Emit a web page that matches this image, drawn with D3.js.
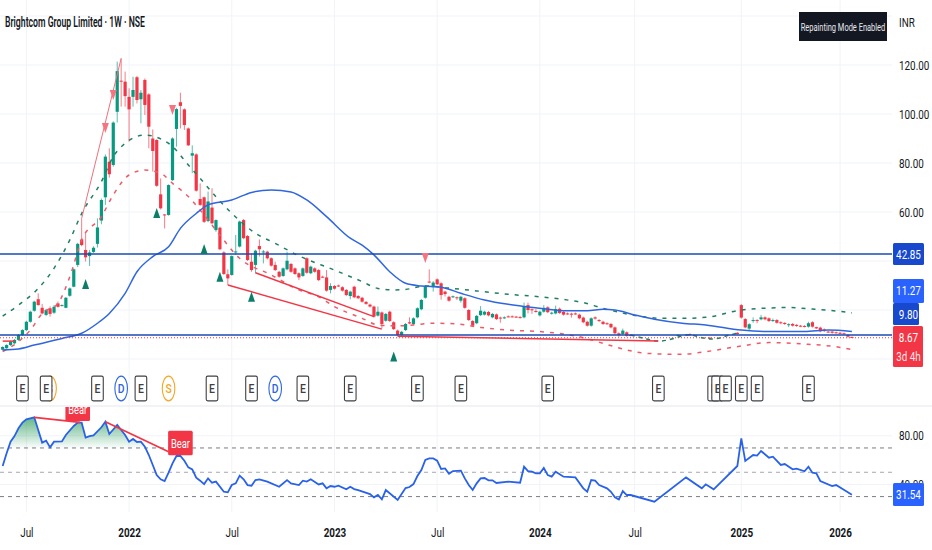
<!DOCTYPE html>
<html>
<head>
<meta charset="utf-8">
<script src="https://d3js.org/d3.v7.min.js"></script>
<style>
  html, body { margin: 0; padding: 0; background: #fff; }
  svg { display: block; font-family: Roboto, sans-serif; }
</style>
</head>
<body>
<div id="mydiv"></div>
<script>
// bars are placed by week number, week 0 is the first bar on the left
var tickWeeks = [6, 32, 58, 84, 110, 136, 160, 187, 212];
var tickLabels = ["Jul", "2022", "Jul", "2023", "Jul", "2024", "Jul", "2025", "2026"];
var priceTicks = [120, 100, 80, 60];
var priceGrid = [140, 120, 100, 80, 60, 40, 20, 0];
var rsiTicks = [80, 40];
var rsiLevels = [70, 50, 30];

var candleWeeks = d3.range(0, 160).concat([171, 174, 179, 186]).concat(d3.range(187, 216));
var opens = [3.8,4.4,5.7,6.4,7.8,9.8,11.8,15.2,19.7,24.4,
  20.9,18.0,20.7,18.9,22.7,21.8,20.9,25.8,29.5,38.4,
  48.8,44.5,42,43.7,47,56.5,66,80.5,79.2,100.9,
  113.6,113.2,107,107,115,106,113.9,108,90,89.4,
  67.2,59,58.8,73,93.9,104.8,101.9,94.1,83,83.5,
  65.3,66,56.3,61.8,52.6,53.6,43.5,34.6,34.3,43.6,
  45.9,56.7,50.2,39.7,38.4,46.1,43.6,43.8,41.1,38.4,
  35.6,33.9,36.6,38.8,37,35,33.9,41.1,35,37,
  36.3,33.6,33.3,28.2,29.8,30,29.3,28.2,25.7,29.5,
  25.7,25,23.3,22.2,21.4,17.7,19,15.6,19.3,15,
  11.6,9.8,11.8,15,14.3,17,20.3,25,31.6,29.3,
  32.5,30.9,27.5,25.4,25.4,25.2,23.8,24.8,20,15.5,
  14.6,17.9,18.1,19.2,17,18.2,16.9,16.9,17.4,17.4,
  17.3,17.1,17,22,20.3,19.6,17.8,19.3,21.1,18.5,
  18.6,20.5,19.2,18.6,18.5,18.6,18.1,16.9,15.2,13.6,
  17,15.9,15.2,14.6,14.3,12.9,10.5,10.2,10.9,9.8,
  9.6,10.2,8.7,10.7,
  22,16.3,12.4,15.8,15.9,16.2,17,16.6,15.8,15.9,
  15,14.7,14,14.3,13.9,13.6,13.5,13.2,15,13,
  12.8,12.1,11.2,11.2,10.9,10.7,10.5,9.8,9];
var closes = [4.9,5.7,7.1,7.8,9.8,11.8,15.2,19.3,23.4,22,
  18.6,20,18.4,21.3,21.3,22,25,28.8,36.6,47,
  46.5,41.5,43.5,45.4,53.7,64.9,82.6,75.4,96.5,117.5,
  113.2,107.3,101.9,109.8,105.7,108.7,103.7,94.8,84.9,70.7,
  61.5,58.7,71,90,102,103.3,95.5,87.2,84,68.7,
  62.9,56,64.3,55.4,56.7,44.8,34.7,32.9,42,43.9,
  56.1,49.3,40.4,36.3,44.2,44.8,43.9,41.1,38.1,36.3,
  33.6,37,40.1,35.6,34.7,33.3,37,35.2,37.7,35.6,
  32.2,33.3,27.9,29.8,28.7,29.8,27.9,26.1,27.5,25.2,
  24.8,23.4,22.5,21.4,17.3,19.3,14.3,18.4,15.5,12.2,
  9.7,11.1,14.3,14.5,16.6,20.7,24.1,29.8,31.2,31.2,
  30.5,26.1,26.5,23.8,25.6,25,25.4,20.9,15.9,13.6,
  17.6,19.7,19.3,17.8,18.4,16.3,16.6,17,17.3,17.3,
  17.1,17,21.6,20,20,19.4,19.3,20.9,19.1,18.9,
  20.4,18.8,18.1,18.3,18.3,18.3,16.6,15,13.6,16.6,
  16.5,15.5,14.3,14.3,12.9,10.5,9.8,11.6,9.5,9.4,
  9.8,9.8,8.3,10.2,
  16.9,12.9,14.2,15.9,15.5,17,16.2,15.5,15.9,14.8,
  14.6,14.3,14.2,13.6,13.5,13.4,13.3,14.6,13.2,12.5,
  11.3,11.4,11,10.7,10.7,10.5,10.3,9.1,8.67];
var highs = [5.2,6,7.5,8.2,10.2,12.2,15.6,19.7,23.8,26.8,
  22.5,20.5,21.5,22,23.5,22.3,25.3,29.2,37,47.4,
  57.4,51.3,44.5,46,57.4,65.5,83.5,86,97,121.4,
  122.7,117.3,110.5,115.2,115.5,109.8,114.5,108.5,93.7,89.7,
  73.7,59.2,71.3,90.5,102.5,108.7,102.3,94.5,87.2,84,
  71.7,66.3,68.3,69.7,57,54,44,36.6,42.3,50.6,
  56.5,57.2,50.6,43.1,44.6,48.8,44.5,44.2,41.5,39.7,
  36,37.4,43.8,39.2,37.4,35.4,37.4,41.5,38.1,37.4,
  36.7,34,36.3,30.9,30.2,30.4,29.7,28.6,27.9,29.9,
  26.1,25.4,23.7,22.6,21.8,21.4,19.4,18.8,19.7,15.4,
  12,11.5,14.7,17,17,21.1,24.5,30.2,36.6,31.8,
  32.9,31.3,27.9,25.8,25.9,25.5,25.8,25.2,20.4,15.9,
  18,21.6,19.7,19.6,18.8,18.6,17.3,17.4,17.8,17.8,
  17.6,17.5,23,23,20.7,20.4,19.7,22,21.5,19.3,
  21.8,21,19.6,19,18.9,19,18.5,17.3,15.6,17,
  17.4,16.3,15.6,15,14.7,13.3,10.9,12.4,11.3,10,
  10,10.5,9,11,
  22.4,16.7,14.6,17,16.3,18,17.4,17,16.5,16.3,
  15.4,15.1,14.6,14.7,14.3,13.9,13.8,15.2,15.4,13.2,
  13.2,12.5,11.5,11.6,11.2,11,10.8,10.2,9.2];
var lows = [3.5,4,5.3,6,7.4,9.4,11.4,14.8,19.3,21.8,
  18.2,17.5,17.3,18.4,21,21.5,20.7,25.4,29.3,37.5,
  46,39.8,38,43.3,45.5,55,62.9,74,78.5,96.5,
  103,103,88.7,103,104.3,96.2,99.6,86,76.5,70.3,
  61,53.3,58.5,72.7,86.7,94.1,93.5,87,75.8,68.3,
  62.5,55.5,55.8,55,51.9,44.4,34.3,30.2,34,42.5,
  45.5,48.9,40,35.6,35,41.8,39,40.6,37.7,35.9,
  33.2,33.5,36.2,35.2,34.3,32.2,33.5,34.8,34.6,35.2,
  31.8,33,27.5,26.8,28.3,29.4,27.5,25.7,24.4,24.8,
  24.4,23,22.1,21,16.9,17.3,12.5,15.2,15.1,11.8,
  9.3,9.4,11.4,14.2,13.9,16.6,19.9,24.6,30.9,27.5,
  30.1,24.2,25.5,23.4,24.9,24.1,23,20.5,15.5,13.2,
  14.2,17.5,17.7,17.4,16.6,15.9,14.8,16.3,17,17,
  16.8,16.6,16.6,18.6,18.4,18.9,17.4,18.9,18.7,18.1,
  18.2,18.4,17.7,18,16.9,18,16.2,14.6,13.2,13.2,
  16.1,15.1,13.9,13.9,12.5,10.1,9,9.8,9.1,9.2,
  9.4,9.6,8,10,
  16.5,12.5,11.4,14.8,14.6,15.8,15.8,15.1,15.1,14.4,
  14.2,13.9,13,13.2,13.1,13,12.9,12.8,12.8,12.2,
  10.9,11,10.7,10.3,10.4,10.2,10,8.8,8.5];

var upperWeeks = [0,4,9,13,17,20,25,28,31,36,39,43,47,50,54,58,64,69,75,84,91,95,99,102,107,112,120,128,136,142,147,152,158,162,167,172,178,187,194,199,205,211,215];
var upperBand = [17.5,22,28.8,37,48.6,59.4,72.4,82.6,88,91.4,90.5,86.7,79.2,73.7,66.2,59.5,51.3,47.2,42.1,36.3,31.6,28.8,28.2,28.4,29.8,29.1,27.8,26.4,25.4,24.3,23,20.7,18.4,17.3,16.6,16.6,17,20,20.8,21,20.4,19.6,18.8];
var lowerWeeks = [0,4,7,10,14,17,20,25,28,32,36,40,43,47,50,54,60,68,75,80,84,91,95,100,104,109,115,121,128,136,142,147,152,158,163,172,178,187,194,203,211,215];
var lowerBand = [3,7.1,11.8,18.6,22.7,33.6,48.6,58.1,67,75.1,77.1,75.8,71.7,66.3,60.8,52.6,41.1,34.3,28.2,25.4,21.4,16.6,13.9,13.5,13.9,14.6,14.3,12.9,11.8,11.2,10.2,8.7,6.4,3.7,2.3,1.9,3,5.3,6.7,6.1,5,3.9];
var maWeeks = [0,4,8,15,20,24,27,31,34,38,42,45,49,52,58,63,68,73,77,82,88,91,94,98,102,106,111,116,122,128,132,138,142,148,152,155,160,165,172,178,187,194,203,209,215];
var maValues = [3.7,4.1,5.7,8.4,10.5,14.6,18.6,26.8,35.6,41.8,45.8,53.3,59.4,62.9,64.9,68,69,68.2,64.9,58.1,49.3,46.5,42.5,35.6,30.9,29.8,29.3,26.8,24.1,22.3,21.4,20.3,19.7,19.7,20.3,20,18,16.2,14.6,13.9,11.8,11.2,11.2,11.8,11.27];

// green dashes through the thin trading stretch in late 2024
var thinWeeks = [159, 163, 166, 170, 172, 174, 177, 180, 184, 186];
var thinValues = [9.8, 8.2, 7.3, 8.4, 9.5, 9.9, 8.7, 8.2, 9.8, 10.5];

var levelLines = [42.85, 9.80];
var lastPrice = 8.67;

// drawn trend lines: start week, start price, end week, end price
var wedgeStarts = [20, 57, 64, 100, 0];
var wedgeStartPrices = [57.4, 30.2, 35.2, 9.3, 7.3];
var wedgeEnds = [30, 96, 94, 166, 3];
var wedgeEndPrices = [122.7, 12.2, 17.3, 7.3, 7.3];

var buyWeeks = [21, 39, 51, 55, 63, 99];
var buyPrices = [30.6, 59.6, 44.9, 33.6, 25.4, 1];
var sellWeeks = [26, 28, 43, 107];
var sellPrices = [94.3, 107.8, 101.6, 41.2];

var earningsWeeks = [5, 11, 24, 35, 53, 63, 76, 88, 105, 116, 138, 166, 180, 181, 183, 187, 191, 204];
var dividendWeeks = [30, 69];
var splitWeeks = [12, 42];

var rsiWeeks = [0,1,2,3,4,5,6,8,9,10,11,12,13,15,16,18,19,20,21,22,23,25,26,27,29,31,32,33,34,35,36,37,38,39,40,41,42,43,44,45,46,47,48,49,50,51,52,53,54,56,57,58,59,60,61,62,63,64,65,67,70,72,73,75,76,77,78,80,81,82,83,84,85,87,88,89,90,93,94,95,96,97,100,102,103,104,105,106,107,108,109,110,111,112,113,114,116,117,118,119,120,121,122,123,124,125,128,131,132,133,134,135,136,137,138,139,140,142,145,147,148,149,150,151,153,154,155,156,157,158,159,165,173,177,178,180,186,187,188,190,191,192,194,195,197,198,200,201,203,204,205,206,207,210,211,215];
var rsiValues = [55.2,65.6,75.2,79.8,86.2,90.8,93.6,95.2,84.8,74.4,76,70.5,75.2,75.4,80.7,88.1,90.8,90.8,78.5,79.8,80.4,87,91.6,81.5,88.9,80.7,75.2,77.4,74.9,75.2,71.1,64.2,56,47.7,44.2,42.8,49.7,57.4,63.4,63.4,59.5,54,52.4,45.5,43.1,40.3,45,41.4,42.3,34,33.5,39.5,40.9,47.2,44.2,39.5,39,43.6,44.2,42.3,38.1,43.6,40.9,39.5,43.1,42.3,44.2,40,40.9,36.8,38.7,38.1,39,36,38.1,36.2,35.4,32.1,29.4,31.3,27.7,35.4,27.2,37,37.9,40.3,46.9,51.8,60.1,61.4,61.4,59.5,52.7,53.2,48.8,51,51.3,45,39.5,35.4,40.9,45,45.3,43.4,43.4,41.2,42.3,41.4,54.6,51,50.5,49.1,49.1,53.5,47.7,46.4,50.5,46.4,45.8,36.8,34,43.6,43.1,39.5,36.8,34,29.4,27.7,34.6,31.3,31.3,25.8,45.8,36.8,40.1,36,55.2,77.9,59.3,64.2,63.7,67.5,62,62.8,56,56.8,52.4,53,50.8,54.6,49.7,49.1,42.8,38.7,39.5,31.54];
var rsiLast = 31.54;

// rsi divergence lines
var bearStarts = [8, 26];
var bearStartValues = [95.2, 91.6];
var bearEnds = [19.6, 42];
var bearEndValues = [91, 66.9];
var bearLabelWeeks = [19, 45];
var bearLabelValues = [92.2, 64];

var green = "#089981";
var red = "#f23645";
var chartRight = 892;

var x = d3.scaleLinear().domain([0, 215]).range([2.67, 851.9]);
var y = d3.scaleLinear().domain([0, 120]).range([359, 65]);
var yRsi = d3.scaleLinear().domain([30, 80]).range([496.6, 435.8]);

var svg = d3.select("#mydiv").append("svg")
  .attr("width", 932)
  .attr("height", 550);

svg.append("rect").attr("width", 932).attr("height", 550).attr("fill", "#fff");

// squeeze text sideways around its anchor, the reference screenshot is narrow
function squeeze(sel, k) {
  sel.each(function () {
    var t = d3.select(this);
    var ax = +t.attr("x") || 0;
    t.attr("transform", "translate(" + ax + ",0) scale(" + k + ",1) translate(" + (-ax) + ",0)");
  });
}

var defs = svg.append("defs");
defs.append("clipPath").attr("id", "rsiClip").append("rect")
  .attr("x", 0).attr("y", 407).attr("width", 932).attr("height", 110);
defs.append("clipPath").attr("id", "above70").append("rect")
  .attr("x", 0).attr("y", 407).attr("width", 932).attr("height", yRsi(70) - 407);
var grad = defs.append("linearGradient").attr("id", "rsiFill")
  .attr("gradientUnits", "userSpaceOnUse")
  .attr("x1", 0).attr("x2", 0).attr("y1", yRsi(95)).attr("y2", yRsi(70));
grad.append("stop").attr("offset", 0).attr("stop-color", "#2f9e5f").attr("stop-opacity", 0.75);
grad.append("stop").attr("offset", 1).attr("stop-color", "#2f9e5f").attr("stop-opacity", 0.02);

// grid
svg.append("g").selectAll("line").data(tickWeeks).join("line")
  .attr("x1", function (d) { return x(d); })
  .attr("x2", function (d) { return x(d); })
  .attr("y1", 0).attr("y2", 512)
  .attr("stroke", "#f2f3f7");
svg.append("g").selectAll("line").data(priceGrid).join("line")
  .attr("x1", 0).attr("x2", chartRight)
  .attr("y1", function (d) { return y(d); })
  .attr("y2", function (d) { return y(d); })
  .attr("stroke", "#f0f3fa");
svg.append("g").selectAll("line").data(rsiTicks).join("line")
  .attr("x1", 0).attr("x2", chartRight)
  .attr("y1", function (d) { return yRsi(d); })
  .attr("y2", function (d) { return yRsi(d); })
  .attr("stroke", "#f0f3fa");
svg.append("line")
  .attr("x1", 0).attr("x2", 932).attr("y1", 406).attr("y2", 406)
  .attr("stroke", "#e6e8ee").attr("stroke-width", 1.2);

// candles
var candleIdx = d3.range(candleWeeks.length);
var candles = svg.append("g");
candles.selectAll("line").data(candleIdx).join("line")
  .attr("x1", function (i) { return x(candleWeeks[i]); })
  .attr("x2", function (i) { return x(candleWeeks[i]); })
  .attr("y1", function (i) { return y(highs[i]); })
  .attr("y2", function (i) { return y(lows[i]); })
  .attr("stroke", function (i) { return closes[i] >= opens[i] ? green : red; })
  .attr("stroke-opacity", 0.65)
  .attr("stroke-width", 1);
candles.selectAll("rect").data(candleIdx).join("rect")
  .attr("x", function (i) { return x(candleWeeks[i]) - 1.6; })
  .attr("width", 3.2)
  .attr("y", function (i) { return y(Math.max(opens[i], closes[i])); })
  .attr("height", function (i) { return Math.max(1, Math.abs(y(opens[i]) - y(closes[i]))); })
  .attr("fill", function (i) { return closes[i] >= opens[i] ? green : red; });

// bands and moving average
function weekLine(weeks, scale) {
  return d3.line()
    .x(function (d, i) { return x(weeks[i]); })
    .y(function (d) { return scale(d); });
}
svg.append("path").datum(upperBand)
  .attr("d", weekLine(upperWeeks, y).curve(d3.curveMonotoneX))
  .attr("fill", "none").attr("stroke", "#1f7f63").attr("stroke-width", 1.5).attr("stroke-dasharray", "4,6");
svg.append("path").datum(thinValues)
  .attr("d", weekLine(thinWeeks, y).curve(d3.curveMonotoneX))
  .attr("fill", "none").attr("stroke", "#1f7f63").attr("stroke-width", 1.5).attr("stroke-dasharray", "4,4");
svg.append("path").datum(lowerBand)
  .attr("d", weekLine(lowerWeeks, y).curve(d3.curveMonotoneX))
  .attr("fill", "none").attr("stroke", "#ee5a68").attr("stroke-width", 1.5).attr("stroke-dasharray", "4,6");
svg.append("path").datum(maValues)
  .attr("d", weekLine(maWeeks, y).curve(d3.curveMonotoneX))
  .attr("fill", "none").attr("stroke", "#2f66e0").attr("stroke-width", 1.5);

// level lines
svg.append("g").selectAll("line").data(levelLines).join("line")
  .attr("x1", 0).attr("x2", chartRight)
  .attr("y1", function (d) { return y(d); })
  .attr("y2", function (d) { return y(d); })
  .attr("stroke", "#1a4bb4").attr("stroke-width", 1.4);
svg.append("line")
  .attr("x1", 0).attr("x2", chartRight)
  .attr("y1", y(lastPrice)).attr("y2", y(lastPrice))
  .attr("stroke", red).attr("stroke-width", 1).attr("stroke-dasharray", "1,2");

// trend lines
svg.append("g").selectAll("line").data(wedgeStarts).join("line")
  .attr("x1", function (d) { return x(d); })
  .attr("y1", function (d, i) { return y(wedgeStartPrices[i]); })
  .attr("x2", function (d, i) { return x(wedgeEnds[i]); })
  .attr("y2", function (d, i) { return y(wedgeEndPrices[i]); })
  .attr("stroke", function (d, i) { return i === 0 ? "#f0707c" : red; })
  .attr("stroke-width", function (d, i) { return i === 0 ? 1 : 1.5; });

// signal triangles
var triangle = d3.line()([[-3.5, 5], [3.5, 5], [0, -5]]) + "Z";
svg.append("g").selectAll("path").data(buyWeeks).join("path")
  .attr("d", triangle)
  .attr("transform", function (d, i) { return "translate(" + x(d) + "," + y(buyPrices[i]) + ")"; })
  .attr("fill", "#0b7d68");
svg.append("g").selectAll("path").data(sellWeeks).join("path")
  .attr("d", triangle)
  .attr("transform", function (d, i) { return "translate(" + x(d) + "," + y(sellPrices[i]) + ") scale(1,-1)"; })
  .attr("fill", "#f7737f");

// event markers
function circleMarks(weeks, color, label) {
  var g = svg.append("g").selectAll("g").data(weeks).join("g")
    .attr("transform", function (d) { return "translate(" + x(d) + ",388.5)"; });
  g.append("ellipse").attr("rx", 6.3).attr("ry", 12.4)
    .attr("fill", "#fff").attr("stroke", color).attr("stroke-width", 1.1);
  g.append("text").text(label)
    .attr("text-anchor", "middle").attr("y", 4.5)
    .attr("font-size", 13).attr("font-weight", 500).attr("fill", color)
    .call(squeeze, 0.8);
}
circleMarks(splitWeeks, "#f5a623", "S");
circleMarks(dividendWeeks, "#2f66e0", "D");

var earn = svg.append("g").selectAll("g").data(earningsWeeks).join("g")
  .attr("transform", function (d) { return "translate(" + x(d) + ",388.5)"; });
earn.append("rect")
  .attr("x", -5.8).attr("y", -12.4).attr("width", 11.6).attr("height", 24.8).attr("rx", 1.6)
  .attr("fill", "#fff").attr("stroke", "#3f4045").attr("stroke-width", 1.1);
earn.append("text").text("E")
  .attr("text-anchor", "middle").attr("y", 4.5)
  .attr("font-size", 13).attr("font-weight", 500).attr("fill", "#3f4045")
  .call(squeeze, 0.8);

// rsi pane
var rsiPane = svg.append("g").attr("clip-path", "url(#rsiClip)");
var rsiFillWeeks = rsiWeeks.filter(function (w) { return w <= 38; });
var rsiFillValues = rsiValues.slice(0, rsiFillWeeks.length);
rsiPane.append("path").datum(rsiFillValues)
  .attr("clip-path", "url(#above70)")
  .attr("d", d3.area()
    .x(function (d, i) { return x(rsiFillWeeks[i]); })
    .y0(yRsi(70))
    .y1(function (d) { return yRsi(d); }))
  .attr("fill", "url(#rsiFill)");
rsiPane.append("g").selectAll("line").data(rsiLevels).join("line")
  .attr("x1", 0).attr("x2", chartRight)
  .attr("y1", function (d) { return yRsi(d); })
  .attr("y2", function (d) { return yRsi(d); })
  .attr("stroke", function (d) { return d === 50 ? "#a6a8b0" : "#787b86"; })
  .attr("stroke-width", 1)
  .attr("stroke-dasharray", "4,4");
rsiPane.append("path").datum(rsiValues)
  .attr("d", weekLine(rsiWeeks, yRsi))
  .attr("fill", "none").attr("stroke", "#2962e8").attr("stroke-width", 1.8);
rsiPane.append("g").selectAll("line").data(bearStarts).join("line")
  .attr("x1", function (d) { return x(d); })
  .attr("y1", function (d, i) { return yRsi(bearStartValues[i]); })
  .attr("x2", function (d, i) { return x(bearEnds[i]); })
  .attr("y2", function (d, i) { return yRsi(bearEndValues[i]); })
  .attr("stroke", red).attr("stroke-width", 1.8);

// bear labels, the group origin is the bottom middle of the box
var bear = rsiPane.append("g").selectAll("g").data(bearLabelWeeks).join("g")
  .attr("transform", function (d, i) {
    return "translate(" + x(d) + "," + yRsi(bearLabelValues[i]) + ")";
  });
bear.append("rect")
  .attr("x", -12.3).attr("y", -24.5).attr("width", 24.6).attr("height", 24.5).attr("rx", 1.5)
  .attr("fill", red);
bear.append("text").text("Bear")
  .attr("text-anchor", "middle").attr("y", -7)
  .attr("font-size", 12).attr("fill", "#fff")
  .call(squeeze, 0.78);

// time axis
var xAxis = svg.append("g")
  .attr("transform", "translate(0,526)")
  .call(d3.axisBottom(x)
    .tickValues(tickWeeks)
    .tickSize(0)
    .tickPadding(2)
    .tickFormat(function (d, i) { return tickLabels[i]; }));
xAxis.select(".domain").remove();
xAxis.selectAll("text")
  .attr("font-family", "Roboto, sans-serif")
  .attr("font-size", 13)
  .attr("fill", "#131722")
  .attr("font-weight", function (d, i) { return tickLabels[i] === "Jul" ? 400 : 700; })
  .call(squeeze, 0.76);

// price axes
function priceAxis(scale, ticks) {
  var a = svg.append("g")
    .attr("transform", "translate(897,0)")
    .call(d3.axisRight(scale).tickValues(ticks).tickSize(0).tickPadding(2)
      .tickFormat(d3.format(".2f")));
  a.select(".domain").remove();
  a.selectAll("text")
    .attr("font-family", "Roboto, sans-serif")
    .attr("font-size", 13)
    .attr("fill", "#131722")
    .call(squeeze, 0.76);
}
priceAxis(y, priceTicks);
priceAxis(yRsi, rsiTicks);

// price tags
function priceTag(value, top, bottom, right, color) {
  svg.append("rect")
    .attr("x", 893).attr("y", top).attr("width", right - 893).attr("height", bottom - top)
    .attr("rx", 1.5).attr("fill", color);
  var t = svg.append("text").text(value)
    .attr("x", 908.5).attr("y", top + 16).attr("text-anchor", "middle")
    .attr("font-size", 13).attr("fill", "#fff");
  t.call(squeeze, 0.76);
}
priceTag(d3.format(".2f")(levelLines[0]), 243, 265, 924, "#1848cc");
priceTag(d3.format(".2f")(maValues[maValues.length - 1]), 279, 303, 924, "#2962ff");
priceTag(d3.format(".2f")(levelLines[1]), 303, 325, 919, "#1848cc");
priceTag(d3.format(".2f")(lastPrice), 326, 367, 923, red);
svg.append("text").text("3d 4h")
  .attr("x", 908.5).attr("y", 361).attr("text-anchor", "middle")
  .attr("font-size", 13).attr("fill", "#fff").attr("fill-opacity", 0.9)
  .call(squeeze, 0.76);
priceTag(d3.format(".2f")(rsiLast), 483, 506, 924, "#2962ff");

// title and top right
svg.append("text").text("Brightcom Group Limited · 1W · NSE")
  .attr("x", 5).attr("y", 27)
  .attr("font-size", 14).attr("font-weight", 600).attr("fill", "#131722")
  .call(squeeze, 0.62);
svg.append("rect")
  .attr("x", 799).attr("y", 12).attr("width", 88).attr("height", 29)
  .attr("fill", "#131722");
svg.append("text").text("Repainting Mode Enabled")
  .attr("x", 843).attr("y", 31).attr("text-anchor", "middle")
  .attr("font-size", 11).attr("fill", "#e8e9ec")
  .call(squeeze, 0.68);
svg.append("text").text("INR")
  .attr("x", 907).attr("y", 27).attr("text-anchor", "middle")
  .attr("font-size", 13).attr("fill", "#131722")
  .call(squeeze, 0.76);
</script>
</body>
</html>
